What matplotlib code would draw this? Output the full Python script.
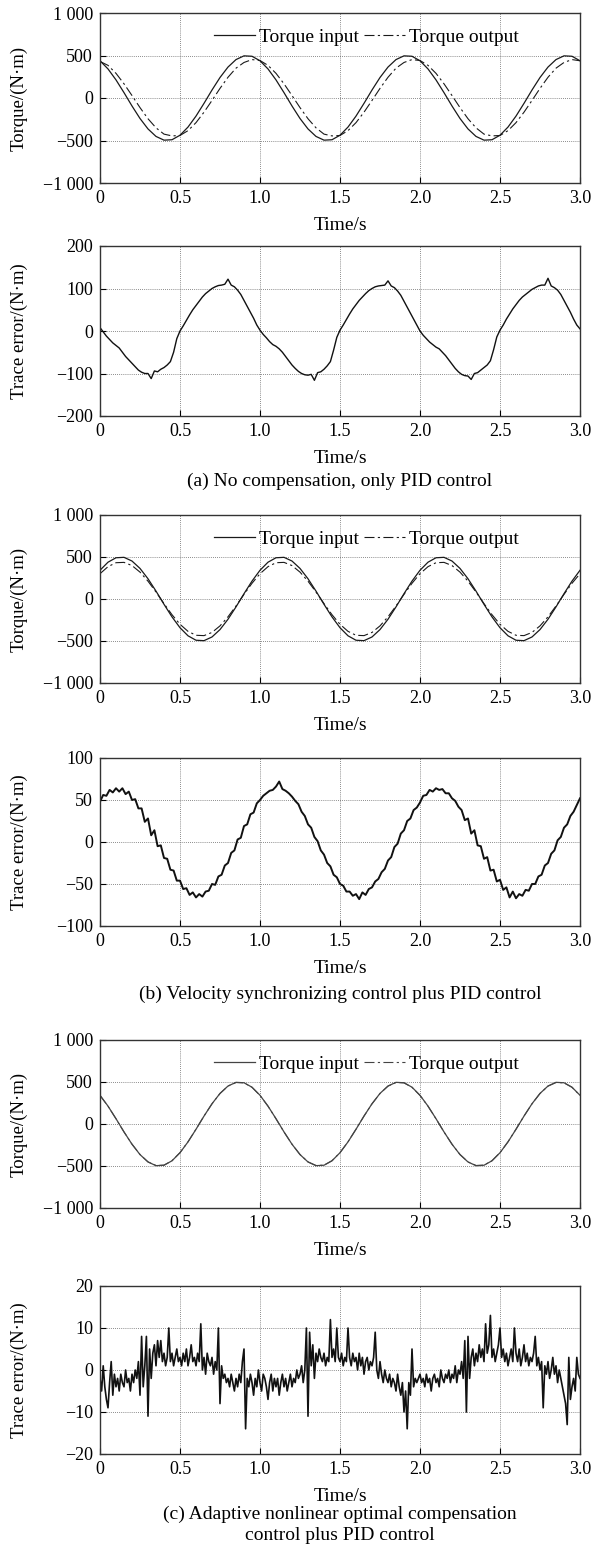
import matplotlib
matplotlib.use("Agg")
import matplotlib.pyplot as plt
import numpy as np

plt.rcParams['font.family'] = ['Liberation Serif', 'DejaVu Serif']
plt.rcParams['font.size'] = 13

# ---- data ----
# torque curves, sampled every 0.05 s from 0 to 3.0 s
t_torque = np.linspace(0, 3.0, 61)

# (a) no compensation
torque_in_a = [438, 342, 213, 63, -94, -241, -364, -452, -496, -491, -438, -342, -213, -63, 94, 241, 364, 452, 496, 491,
               438, 342, 213, 63, -94, -241, -364, -452, -496, -491, -438, -342, -213, -63, 94, 241, 364, 452, 496, 491,
               438, 342, 213, 63, -94, -241, -364, -452, -496, -491, -438, -342, -213, -63, 94, 241, 364, 452, 496, 491,
               438]
torque_out_a = [430, 384, 290, 167, 29, -113, -244, -351, -425, -446, -441, -384, -290, -167, -29, 113, 244, 351, 418, 452,
                441, 384, 290, 167, 29, -113, -244, -351, -425, -446, -441, -384, -290, -167, -29, 113, 244, 351, 418, 452,
                441, 384, 290, 167, 29, -113, -244, -351, -425, -446, -441, -384, -290, -167, -29, 113, 244, 351, 418, 452,
                438]

# (b) velocity synchronizing control
torque_in_b = [342, 438, 491, 496, 452, 364, 241, 94, -63, -213, -342, -438, -491, -496, -452, -364, -241, -94, 63, 213,
               342, 438, 491, 496, 452, 364, 241, 94, -63, -213, -342, -438, -491, -496, -452, -364, -241, -94, 63, 213,
               342, 438, 491, 496, 452, 364, 241, 94, -63, -213, -342, -438, -491, -496, -452, -364, -241, -94, 63, 213,
               342]
torque_out_b = [301, 385, 432, 436, 398, 320, 212, 83, -55, -187, -301, -385, -432, -436, -398, -320, -212, -83, 55, 187,
                301, 385, 432, 436, 398, 320, 212, 83, -55, -187, -301, -385, -432, -436, -398, -320, -212, -83, 55, 187,
                301, 385, 432, 436, 398, 320, 212, 83, -55, -187, -301, -385, -432, -436, -398, -320, -212, -83, 55, 187,
                301]

# (c) adaptive nonlinear optimal compensation
torque_in_c = [342, 213, 63, -94, -241, -364, -452, -496, -491, -438, -342, -213, -63, 94, 241, 364, 452, 496, 491, 438,
               342, 213, 63, -94, -241, -364, -452, -496, -491, -438, -342, -213, -63, 94, 241, 364, 452, 496, 491, 438,
               342, 213, 63, -94, -241, -364, -452, -496, -491, -438, -342, -213, -63, 94, 241, 364, 452, 496, 491, 438,
               342]
torque_out_c = [340, 212, 62, -95, -240, -363, -451, -494, -490, -437, -341, -212, -62, 95, 240, 363, 451, 494, 490, 437,
                340, 212, 62, -95, -240, -363, -451, -494, -490, -437, -341, -212, -62, 95, 240, 363, 451, 494, 490, 437,
                340, 212, 62, -95, -240, -363, -451, -494, -490, -437, -341, -212, -62, 95, 240, 363, 451, 494, 490, 437,
                340]

# trace errors (a) and (b), every 0.02 s
t_err = np.linspace(0, 3.0, 151)
err_a = [8, -2, -12, -20, -28, -34, -40, -50, -60, -68, -76, -84, -92, -97, -100, -100, -112, -94, -96, -90,
         -86, -80, -72, -50, -18, 0, 12, 25, 38, 50, 60, 70, 80, 88, 94, 100, 104, 107, 108, 110,
         122, 108, 104, 96, 86, 72, 58, 44, 30, 14,
         2, -8, -16, -25, -32, -36, -42, -50, -60, -70, -80, -88, -95, -100, -103, -104, -102, -116, -98, -96,
         -90, -82, -72, -45, -15, 2, 14, 27, 40, 52, 62, 72, 80, 88, 95, 100, 104, 106, 107, 108,
         118, 106, 102, 94, 84, 70, 56, 42, 28, 14,
         0, -10, -18, -26, -32, -38, -42, -50, -58, -68, -78, -88, -96, -102, -105, -106, -114, -100, -98, -92,
         -86, -80, -70, -44, -14, 2, 14, 28, 40, 52, 62, 72, 80, 86, 92, 98, 102, 106, 108, 108,
         124, 106, 102, 96, 86, 72, 58, 44, 28, 14,
         5]

err_b = [48, 56, 55, 62, 59, 64, 60, 64, 57, 60, 50, 51, 40, 40, 24, 28, 8, 14, -5, -4,
         -19, -20, -33, -34, -46, -46, -56, -55, -63, -60, -66, -62, -65, -59, -58, -50, -51, -41, -39, -28,
         -25, -13, -10, 3, 5, 19, 21, 33, 35, 46,
         50, 55, 58, 61, 62, 66, 72, 63, 61, 58, 54, 49, 45, 36, 31, 21, 17, 6, 1, -10,
         -15, -25, -29, -39, -42, -50, -52, -59, -59, -64, -62, -68, -60, -63, -56, -54, -47, -44, -36, -32,
         -22, -18, -6, -2, 10, 14, 25, 28, 38, 41,
         47, 55, 56, 62, 60, 64, 62, 63, 58, 58, 52, 49, 42, 38, 26, 28, 10, 14, -4, -5,
         -20, -18, -34, -33, -47, -45, -57, -54, -66, -59, -67, -62, -64, -57, -58, -50, -50, -41, -39, -28,
         -25, -14, -10, 2, 6, 17, 21, 31, 36, 44,
         52]

# trace error (c), every 0.01 s
t_err_c = np.linspace(0, 3.0, 301)
err_c = [-2, -5, 1, -4, -7, -9, -3, 2, -6, -1,
         -4, -2, -5, -1, -3, -4, 0, -3, -2, -5,
         -1, -3, 0, -2, 2, -6, 8, -4, 1, 8,
         -11, 5, -2, 4, 6, 1, 7, 3, 7, 2,
         4, 1, 3, 10, 2, 4, 1, 3, 5, 2,
         3, 1, 4, 2, 5, 1, 3, 6, 2, 3,
         1, 4, 2, 11, 0, 3, -1, 4, 2, 1,
         3, -1, 2, 0, 10, -8, 1, -2, -1, -3,
         -2, -4, -1, -3, -5, -2, -4, -1, -3, 2,
         5, -14, -2, -4, -1, -3, -6, -2, -4, 0,
         -3, -5, -1, -2, -4, -7, -3, -1, -5, -2,
         -4, -2, -6, -3, -1, -4, -2, -5, -3, -1,
         -4, -2, -3, 0, -2, -1, 1, -3, 0, 10,
         -11, 9, 1, 6, -2, 4, 2, 5, 3, 2,
         4, 1, 3, 2, 12, 3, 5, 2, 10, 3,
         2, 4, 1, 3, 2, 10, 3, 1, 4, 2,
         3, 0, 4, 1, 3, -1, 2, 3, 0, 2,
         1, 3, 9, 0, -2, 2, -1, -3, 0, -2,
         -3, -1, -4, -2, -3, -5, -1, -4, -6, -3,
         -10, -5, -14, -3, -6, 5, -4, -2, -3, -2,
         -1, -3, -2, -4, -1, -3, -2, -5, -2, -1,
         -3, -2, -4, 0, -2, -3, -1, -2, 0, -3,
         -1, -2, 1, -3, 0, -1, 2, -2, 7, -10,
         8, -2, 3, 5, 1, 4, 2, 6, 3, 5,
         2, 11, 4, 6, 13, 3, 5, 2, 4, 6,
         10, 3, 5, 2, 4, 1, 3, 5, 2, 10,
         4, 2, 5, 1, 3, 6, 2, 4, 1, 3,
         2, 4, 8, 1, 3, 0, 2, -9, 1, -1,
         2, -2, 0, 3, -1, 1, -3, 0, -2, -4,
         -6, -8, -13, 3, -7, -4, -2, -5, 3, -1,
         -2]

x_ticks = [0, 0.5, 1.0, 1.5, 2.0, 2.5, 3.0]
x_ticklabels = ['0', '0.5', '1.0', '1.5', '2.0', '2.5', '3.0']
torque_ticks = [-1000, -500, 0, 500, 1000]
torque_ticklabels = ['\u22121 000', '\u2212500', '0', '500', '1 000']

captions = ['(a) No compensation, only PID control',
            '(b) Velocity synchronizing control plus PID control',
            '(c) Adaptive nonlinear optimal compensation\ncontrol plus PID control']

# ---- layout (pixels) ----
W, H = 592, 1555
fig = plt.figure(figsize=(W / 100, H / 100), dpi=100)

def make_ax(top, bottom, left=100, right=580):
    ax = fig.add_axes([left / W, 1 - bottom / H, (right - left) / W, (bottom - top) / H])
    ax.set_xlim(0, 3.0)
    ax.set_xticks(x_ticks)
    ax.set_xticklabels(x_ticklabels)
    ax.grid(True, linestyle=(0, (1, 1.5)), color='#666666', linewidth=0.6)
    ax.tick_params(direction='in', length=4, width=0.8, pad=5, labelsize=13)
    for s in ax.spines.values():
        s.set_linewidth(1.0)
        s.set_color('#333333')
    ax.set_xlabel('Time/s', labelpad=7, fontsize=14)
    return ax

def torque_panel(top, bottom, t_in, t_out, col='#1a1a1a'):
    ax = make_ax(top, bottom)
    ax.plot(t_torque, t_in, color=col, lw=0.9, label='Torque input')
    ax.plot(t_torque, t_out, color=col, lw=0.8, linestyle=(0, (9, 3, 2, 3)), label='Torque output')
    ax.set_ylim(-1000, 1000)
    ax.set_yticks(torque_ticks)
    ax.set_yticklabels(torque_ticklabels)
    ax.set_ylabel('Torque/(N\u00b7m)', fontsize=13.5)
    ax.yaxis.set_label_coords(-0.15, 0.5)
    ax.legend(loc='upper center', bbox_to_anchor=(0.555, 1.015), ncol=2, frameon=False,
              handlelength=2.1, handletextpad=0.2, columnspacing=0.3, fontsize=14)
    return ax

def error_panel(top, bottom, t, e, lim, step, lw=0.9):
    ax = make_ax(top, bottom)
    ax.plot(t, e, color='#111111', lw=lw)
    ax.set_ylim(-lim, lim)
    ticks = [-lim, -step, 0, step, lim]
    ax.set_yticks(ticks)
    ax.set_yticklabels([str(v).replace('-', '\u2212') for v in ticks])
    ax.set_ylabel('Trace error/(N\u00b7m)', fontsize=13.5)
    ax.yaxis.set_label_coords(-0.15, 0.5)
    return ax

torque_panel(13, 183, torque_in_a, torque_out_a)
error_panel(246, 416, t_err, err_a, 200, 100, lw=1.0)
fig.text(340 / W, 1 - 481 / H, captions[0], ha='center', va='center', fontsize=14)

torque_panel(515, 683, torque_in_b, torque_out_b)
error_panel(758, 926, t_err, err_b, 100, 50, lw=1.4)
fig.text(340 / W, 1 - 994 / H, captions[1], ha='center', va='center', fontsize=14)

torque_panel(1040, 1208, torque_in_c, torque_out_c, col='#444444')
error_panel(1286, 1454, t_err_c, err_c, 20, 10, lw=1.2)
fig.text(340 / W, 1 - 1525 / H, captions[2], ha='center', va='center', fontsize=14, linespacing=1.3)

fig.savefig('out.png', dpi=100)
